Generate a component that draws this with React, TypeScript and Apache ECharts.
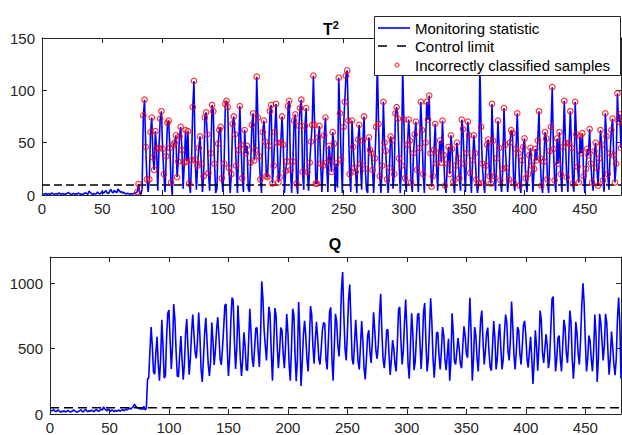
import React, { useEffect, useRef } from "react";
import * as echarts from "echarts";

// T² monitoring statistic, samples 1..480
const t2Values: number[] = [
  1.2,0.8,1.5,0.6,0.9,1.1,0.5,2.0,1.3,0.7,0.9,1.4,0.6,2.2,1.0,0.8,1.6,0.5,1.1,0.9,
  1.8,2.4,1.2,0.7,0.9,1.5,0.6,1.1,0.8,1.9,1.3,0.7,1.0,0.6,1.4,2.1,1.2,0.8,3.8,2.6,
  1.1,0.7,1.6,0.9,1.3,2.8,1.4,0.8,2.1,3.5,1.6,2.9,4.2,2.0,1.3,3.1,5.5,3.2,1.8,4.6,
  3.0,2.2,5.8,4.1,2.5,3.4,1.7,2.6,1.2,0.9,1.8,1.1,0.6,1.4,0.9,1.6,1.2,2.4,
  3,10.5,1.5,0.5,6,76,91,46,15,3,15,60,74,36,24,61,44,4,45,73,
  80,44,20,3,37,69,71,45,12,0,48,50,57,17,32,56,65,43,6,31,
  62,32,61,11,2,33,84,109,34,5,28,45,56,30,3,18,74,79,58,21,
  4,40,86,80,30,2,6,49,62,65,16,3,30,87,90,84,26,2,20,68,
  75,58,28,2,43,85,48,16,3,62,40,47,6,3,31,67,78,33,43,113,
  74,37,15,2,60,71,51,18,
  17,47,80,86,11,28,60,87,50,12,17,50,75,48,2,23,32,85,90,24,
  2,32,71,77,11,1,66,83,91,22,5,66,83,22,4,31,51,67,114,67,
  11,11,55,66,30,3,28,57,74,31,3,47,35,22,60,49,3,30,7,112,
  78,34,2,65,89,114,119,71,20,3,71,46,26,22,2,53,67,30,5,52,
  75,25,5,2,55,43,40,24,2,35,65,127,68,18,2,28,89,50,42,15,
  2,26,56,52,6,20,78,84,73,35,2,28,
  122,72,16,3,48,72,52,12,3,40,58,70,24,3,45,89,62,20,2,50,
  89,72,95,40,8,18,43,68,30,4,40,52,31,71,38,9,2,30,46,20,
  57,44,13,2,28,50,35,16,4,72,63,30,3,40,70,57,21,2,33,57,
  40,15,2,11,124,65,30,12,2,28,48,53,18,11,87,52,18,4,35,71,
  45,14,3,25,83,48,26,3,15,50,62,59,12,4,44,78,40,9,2,33,
  46,54,16,3,20,38,45,28,3,25,44,33,52,80,35,9,2,32,60,54,
  15,2,42,65,103,44,14,3,54,30,60,20,3,46,90,50,17,3,49,80,
  45,11,3,89,58,27,12,56,40,59,18,2,25,44,38,63,30,12,4,42,
  50,26,9,35,62,48,14,3,78,56,20,5,40,62,73,38,12,30,97,70,
  77,45
];

// Q monitoring statistic, samples 1..480
const qValues: number[] = [
  20,28,35,22,18,25,30,20,15,22,18,25,15,20,28,22,15,18,25,30,
  22,18,14,20,26,32,20,15,28,35,22,18,25,20,30,24,18,28,35,25,
  20,30,38,28,55,40,30,25,38,28,20,32,25,18,28,20,25,30,22,28,
  35,25,30,38,32,40,45,38,48,55,75,58,50,45,40,38,45,35,60,30,
  45,270,275,480,665,520,320,305,470,590,380,255,420,720,520,275,290,580,770,795,
  560,345,520,840,720,480,290,285,450,595,420,262,380,620,725,500,300,420,620,760,
  610,470,425,560,775,600,340,245,420,620,735,560,380,290,400,700,560,375,480,640,
  740,600,420,375,500,660,830,840,500,290,430,700,890,870,560,345,500,830,640,420,
  290,420,625,520,340,330,560,805,620,420,360,500,655,660,480,360,600,1015,880,640,
  520,410,620,820,760,470,255,500,810,760,520,350,480,660,640,460,350,520,765,620,
  380,255,500,805,760,450,250,420,855,620,215,380,600,712,600,420,325,540,825,760,
  520,385,560,705,580,420,378,500,640,700,690,420,340,560,780,815,420,255,520,766,
  700,520,440,620,950,1085,760,500,410,620,880,990,700,420,378,540,720,560,400,340,
  520,710,560,350,265,420,600,640,470,390,560,778,640,480,422,530,760,918,620,420,
  350,460,640,646,450,298,420,565,500,380,325,540,800,818,560,378,480,700,875,650,
  380,270,520,770,620,335,400,580,760,770,540,345,520,780,848,560,325,420,650,885,
  700,420,278,430,620,625,450,340,480,665,600,420,335,450,575,255,400,770,620,400,
  378,480,580,500,380,350,520,670,600,460,430,650,888,620,255,420,665,600,420,325,
  520,720,790,560,378,480,620,660,480,360,330,520,710,580,340,420,600,690,500,340,
  420,620,760,700,480,410,560,860,680,450,340,480,665,640,460,378,520,680,712,600,
  420,355,480,590,420,230,400,640,520,330,500,790,720,470,390,500,610,520,350,420,
  650,880,897,560,325,420,580,600,420,325,520,720,660,470,390,560,790,700,420,270,
  420,705,620,460,378,560,820,1000,850,560,325,420,600,560,420,325,480,760,600,245,
  420,766,700,560,410,520,766,700,480,300,420,630,520,380,296,420,720,890,700,270
];

const t2Limit = 9.6;
const qLimit = 48;
const faultStart = 79; // first sample of the fault period (incorrectly classified samples begin here)
const sampleMax = 480;
const xTickStep = 50;
const t2Ticks = { max: 150, step: 50 };
const qTicks = { max: 1200, step: 500 };
const titles = ["T", "2", "Q"];
const legendLabels = ["Monitoring statistic", "Control limit", "Incorrectly classified samples"];

const FONT = "'Liberation Sans', Arial, Helvetica, sans-serif";
const AX = "#262626";

export default function App() {
  const ref = useRef<HTMLDivElement>(null);

  useEffect(() => {
    if (!ref.current) return;
    const chart = echarts.init(ref.current, null, { renderer: "svg" });

    const t2Data = t2Values.map((v, i) => [i + 1, v]);
    const qData = qValues.map((v, i) => [i + 1, v]);
    const markerData = t2Values
      .map((v, i) => [i + 1, v])
      .filter(([x, v]) => x >= faultStart && (v > 7 || x === faultStart));

    const baseX = (gridIndex: number, position: "top" | "bottom", labels: boolean) => ({
      type: "value",
      gridIndex,
      position,
      min: 0,
      max: sampleMax,
      interval: xTickStep,
      axisLine: { show: true, onZero: false, lineStyle: { color: AX, width: 1 } },
      axisTick: { show: true, inside: true, length: 5, lineStyle: { color: AX } },
      axisLabel: {
        show: labels,
        color: AX,
        fontSize: 15,
        fontFamily: FONT,
        margin: 6,
        showMaxLabel: false,
        formatter: (v: number) => String(v),
      },
      splitLine: { show: false },
    });
    const baseY = (
      gridIndex: number,
      position: "left" | "right",
      labels: boolean,
      max: number,
      step: number,
      showMax: boolean
    ) => ({
      type: "value",
      gridIndex,
      position,
      min: 0,
      max,
      interval: step,
      axisLine: { show: true, onZero: false, lineStyle: { color: AX, width: 1 } },
      axisTick: { show: true, inside: true, length: 5, lineStyle: { color: AX } },
      axisLabel: {
        show: labels,
        color: AX,
        fontSize: 15,
        fontFamily: FONT,
        margin: 7,
        showMaxLabel: showMax,
        formatter: (v: number) => String(v),
      },
      splitLine: { show: false },
    });

    const option: any = {
      animation: false,
      backgroundColor: "#ffffff",
      grid: [
        { left: 42, top: 38, width: 579, height: 157, containLabel: false },
        { left: 50, top: 257, width: 571, height: 157, containLabel: false },
      ],
      xAxis: [
        baseX(0, "bottom", true),
        baseX(0, "top", false),
        baseX(1, "bottom", true),
        baseX(1, "top", false),
      ],
      yAxis: [
        baseY(0, "left", true, t2Ticks.max, t2Ticks.step, true),
        baseY(0, "right", false, t2Ticks.max, t2Ticks.step, true),
        baseY(1, "left", true, qTicks.max, qTicks.step, false),
        baseY(1, "right", false, qTicks.max, qTicks.step, false),
      ],
      series: [
        {
          type: "line",
          xAxisIndex: 0,
          yAxisIndex: 0,
          data: t2Data,
          symbol: "none",
          lineStyle: { color: "#0000ff", width: 1.6 },
          z: 2,
        },
        {
          type: "line",
          xAxisIndex: 0,
          yAxisIndex: 0,
          data: [
            [0, t2Limit],
            [sampleMax, t2Limit],
          ],
          symbol: "none",
          lineStyle: { color: "#000000", width: 1.6, type: [8, 4] },
          z: 3,
        },
        {
          type: "scatter",
          xAxisIndex: 0,
          yAxisIndex: 0,
          data: markerData,
          symbol: "circle",
          symbolSize: 5.5,
          itemStyle: { color: "rgba(0,0,0,0)", borderColor: "#ff0000", borderWidth: 1.2 },
          z: 4,
        },
        {
          type: "line",
          xAxisIndex: 2,
          yAxisIndex: 2,
          data: qData,
          symbol: "none",
          lineStyle: { color: "#0000ff", width: 1.6 },
          z: 2,
        },
        {
          type: "line",
          xAxisIndex: 2,
          yAxisIndex: 2,
          data: [
            [0, qLimit],
            [sampleMax, qLimit],
          ],
          symbol: "none",
          lineStyle: { color: "#000000", width: 1.6, type: [9, 5] },
          z: 3,
        },
      ],
      graphic: [
        {
          type: "text",
          x: 331,
          y: 28,
          z: 50,
          style: {
            text: `{a|${titles[0]}}{b|${titles[1]}}`,
            fill: "#000",
            textAlign: "center",
            textVerticalAlign: "middle",
            rich: {
              a: { fontSize: 16, fontWeight: "bold", fontFamily: FONT, fill: "#000", verticalAlign: "bottom", lineHeight: 18 },
              b: { fontSize: 11, fontWeight: "bold", fontFamily: FONT, fill: "#000", verticalAlign: "top", lineHeight: 18 },
            },
          },
        },
        {
          type: "text",
          x: 335,
          y: 244,
          z: 50,
          style: {
            text: titles[2],
            fill: "#000",
            font: `bold 16px ${FONT}`,
            textAlign: "center",
            textVerticalAlign: "middle",
          },
        },
        {
          type: "rect",
          z: 100,
          shape: { x: 374.5, y: 16.5, width: 246, height: 59 },
          style: { fill: "#ffffff", stroke: AX, lineWidth: 1 },
        },
        {
          type: "line",
          z: 101,
          shape: { x1: 378, y1: 28, x2: 410, y2: 28 },
          style: { stroke: "#0000ff", lineWidth: 1.6 },
        },
        {
          type: "line",
          z: 101,
          shape: { x1: 378, y1: 46, x2: 410, y2: 46 },
          style: { stroke: "#000000", lineWidth: 1.6, lineDash: [9, 10] },
        },
        {
          type: "circle",
          z: 101,
          shape: { cx: 397, cy: 65, r: 2 },
          style: { fill: "none", stroke: "#ff0000", lineWidth: 1 },
        },
        ...legendLabels.map((t, k) => ({
          type: "text",
          x: 415,
          y: [28.5, 46.5, 65.5][k],
          z: 101,
          style: {
            text: t,
            fill: "#000",
            font: `15px ${FONT}`,
            textAlign: "left",
            textVerticalAlign: "middle",
          },
        })),
      ],
    };

    chart.setOption(option);
    return () => chart.dispose();
  }, []);

  return (
    <div
      ref={ref}
      style={{ position: "fixed", left: 0, top: 0, width: 622, height: 435, background: "#fff" }}
    />
  );
}
